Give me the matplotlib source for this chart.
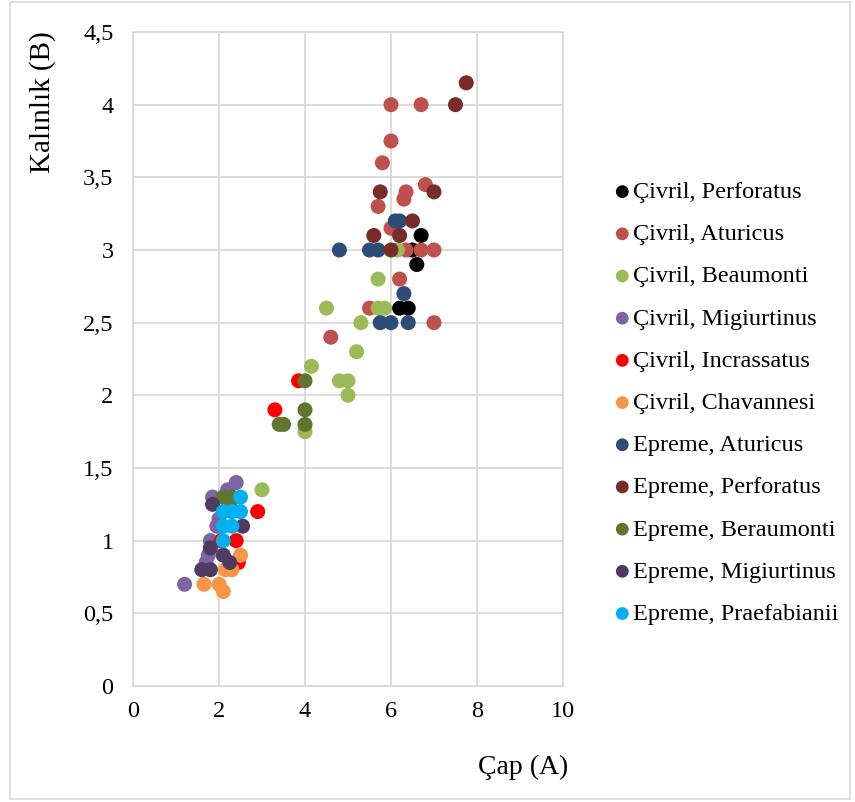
import matplotlib
matplotlib.use("Agg")
import matplotlib.pyplot as plt
from matplotlib.patches import Rectangle

plt.rcParams['font.family'] = ['Liberation Serif', 'DejaVu Serif']

# (Çap A, Kalınlık B) per group
civril_perforatus_x = [6.7, 6.5, 6.6, 6.2, 6.4]
civril_perforatus_y = [3.1, 3.0, 2.9, 2.6, 2.6]

civril_aturicus_x = [6.0, 6.7, 6.0, 5.8, 6.8, 6.35, 6.3, 5.7, 6.0, 6.35, 6.7, 7.0, 6.2, 5.5, 7.0, 4.6]
civril_aturicus_y = [4.0, 4.0, 3.75, 3.6, 3.45, 3.4, 3.35, 3.3, 3.15, 3.0, 3.0, 3.0, 2.8, 2.6, 2.5, 2.4]

civril_beaumonti_x = [6.15, 5.7, 4.5, 5.7, 5.85, 5.3, 5.2, 4.15, 4.8, 5.0, 5.0, 4.0, 3.0]
civril_beaumonti_y = [3.0, 2.8, 2.6, 2.6, 2.6, 2.5, 2.3, 2.2, 2.1, 2.1, 2.0, 1.75, 1.35]

civril_migiurtinus_x = [2.4, 2.2, 1.85, 2.0, 1.95, 1.8, 1.75, 1.7, 1.2]
civril_migiurtinus_y = [1.4, 1.35, 1.3, 1.15, 1.1, 1.0, 0.9, 0.85, 0.7]

civril_incrassatus_x = [3.85, 3.3, 2.9, 2.05, 2.4, 2.45]
civril_incrassatus_y = [2.1, 1.9, 1.2, 1.0, 1.0, 0.85]

civril_chavannesi_x = [2.5, 2.15, 2.3, 1.65, 2.0, 2.1]
civril_chavannesi_y = [0.9, 0.8, 0.8, 0.7, 0.7, 0.65]

epreme_aturicus_x = [6.1, 6.2, 4.8, 5.5, 5.7, 6.3, 5.75, 6.0, 6.4]
epreme_aturicus_y = [3.2, 3.2, 3.0, 3.0, 3.0, 2.7, 2.5, 2.5, 2.5]

epreme_perforatus_x = [7.75, 7.5, 5.75, 7.0, 6.5, 5.6, 6.2, 6.0]
epreme_perforatus_y = [4.15, 4.0, 3.4, 3.4, 3.2, 3.1, 3.1, 3.0]

epreme_beraumonti_x = [4.0, 4.0, 3.4, 3.5, 4.0, 2.1, 2.3, 2.25]
epreme_beraumonti_y = [2.1, 1.9, 1.8, 1.8, 1.8, 1.3, 1.3, 1.25]

epreme_migiurtinus_x = [1.85, 2.55, 1.8, 2.1, 2.25, 1.6, 1.8]
epreme_migiurtinus_y = [1.25, 1.1, 0.95, 0.9, 0.85, 0.8, 0.8]

epreme_praefabianii_x = [2.5, 2.1, 2.3, 2.5, 2.1, 2.3, 2.1]
epreme_praefabianii_y = [1.3, 1.2, 1.2, 1.2, 1.1, 1.1, 1.0]

series = [
    ("Çivril, Perforatus", civril_perforatus_x, civril_perforatus_y, "#000000"),
    ("Çivril, Aturicus", civril_aturicus_x, civril_aturicus_y, "#C0504D"),
    ("Çivril, Beaumonti", civril_beaumonti_x, civril_beaumonti_y, "#9BBB59"),
    ("Çivril, Migiurtinus", civril_migiurtinus_x, civril_migiurtinus_y, "#8064A2"),
    ("Çivril, Incrassatus", civril_incrassatus_x, civril_incrassatus_y, "#FF0000"),
    ("Çivril, Chavannesi", civril_chavannesi_x, civril_chavannesi_y, "#F79646"),
    ("Epreme, Aturicus", epreme_aturicus_x, epreme_aturicus_y, "#2C4D75"),
    ("Epreme, Perforatus", epreme_perforatus_x, epreme_perforatus_y, "#772C2A"),
    ("Epreme, Beraumonti", epreme_beraumonti_x, epreme_beraumonti_y, "#5F7530"),
    ("Epreme, Migiurtinus", epreme_migiurtinus_x, epreme_migiurtinus_y, "#4D3B62"),
    ("Epreme, Praefabianii", epreme_praefabianii_x, epreme_praefabianii_y, "#00B0F0"),
]

x_ticks = [0, 2, 4, 6, 8, 10]
y_ticks = [0, 0.5, 1, 1.5, 2, 2.5, 3, 3.5, 4, 4.5]
y_tick_labels = ["0", "0,5", "1", "1,5", "2", "2,5", "3", "3,5", "4", "4,5"]

fig = plt.figure(figsize=(8.55, 8.02), dpi=100)
ax = fig.add_axes([133/855, 1 - 686/802, 430/855, 654/802])

for i, (name, xs, ys, col) in enumerate(series):
    ax.scatter(xs, ys, s=117, color=col, edgecolors='none', label=name, zorder=3 + i * 0.01)

ax.set_xlim(0, 10)
ax.set_ylim(0, 4.5)
ax.set_xticks(x_ticks)
ax.set_xticklabels([str(t) for t in x_ticks])
ax.set_yticks(y_ticks)
ax.set_yticklabels(y_tick_labels)
ax.tick_params(length=0, labelsize=17.5)
ax.tick_params(axis='y', pad=14)
ax.tick_params(axis='x', pad=11)
ax.grid(True, color='#D9D9D9', linewidth=1.3, zorder=0)
ax.set_axisbelow(True)
for sp in ax.spines.values():
    sp.set_color('#D9D9D9')
    sp.set_linewidth(1.3)

fig.text(43/855, 1 - 31/802, "Kalınlık (B)", rotation=90, ha='center', va='top', fontsize=21)
fig.text(568/855, 1 - 767/802, "Çap (A)", ha='right', va='center', fontsize=20)

leg = ax.legend(loc='upper left', bbox_to_anchor=(615/855, 1 - 181/802),
                bbox_transform=fig.transFigure, frameon=False, fontsize=17.5,
                handlelength=0.6, handletextpad=0.15, labelspacing=0.83,
                borderaxespad=0, borderpad=0, markerscale=0.85)

# light border round the whole chart
fig.patches.append(Rectangle((10/855, 1 - 799/802), 840/855, 797/802,
                             transform=fig.transFigure, fill=False,
                             edgecolor='#D9D9D9', linewidth=1.2))

fig.savefig("out.png", dpi=100)
